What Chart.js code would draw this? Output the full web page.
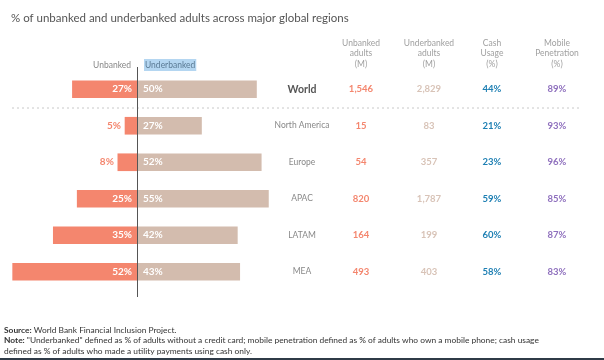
<!DOCTYPE html>
<html>
<head>
<meta charset="utf-8">
<script src="https://cdn.jsdelivr.net/npm/chart.js@4"></script>
<style>
  html, body { margin: 0; padding: 0; background: #fff; }
  #wrap { position: relative; width: 604px; height: 360px; }
</style>
</head>
<body>
<div id="wrap"><canvas id="chart" width="604" height="360"></canvas></div>
<script>
const regions = ['World', 'North America', 'Europe', 'APAC', 'LATAM', 'MEA'];
const unbankedPct = [27, 5, 8, 25, 35, 52];
const underbankedPct = [50, 27, 52, 55, 42, 43];
const unbankedAdults = [1546, 15, 54, 820, 164, 493];
const underbankedAdults = [2829, 83, 357, 1787, 199, 403];
const cashUsage = [44, 21, 23, 59, 60, 58];
const mobilePenetration = [89, 93, 96, 85, 87, 83];

const SALMON = '#f4866e';
const TAN = '#d3bcae';
const FONT = 'Lato, "Open Sans", sans-serif';

const columns = [
    { x: 361, head: ['Unbanked', 'adults', '(M)'], values: unbankedAdults.map(v => v.toLocaleString('en-US')), color: '#f4866e' },
    { x: 429, head: ['Underbanked', 'adults', '(M)'], values: underbankedAdults.map(v => v.toLocaleString('en-US')), color: '#d8c3b7' },
    { x: 492, head: ['Cash', 'Usage', '(%)'], values: cashUsage.map(v => v + '%'), color: '#1d7fb3' },
    { x: 557, head: ['Mobile', 'Penetration', '(%)'], values: mobilePenetration.map(v => v + '%'), color: '#8e6fbd' }
];

const decorPlugin = {
    id: 'decor',
    afterDatasetsDraw(chart) {
        const ctx = chart.ctx;
        const xs = chart.scales.x;
        const ys = chart.scales.y;
        const zero = xs.getPixelForValue(0);
        ctx.save();

        // title
        ctx.fillStyle = '#555';
        ctx.font = '11.5px ' + FONT;
        ctx.textAlign = 'left';
        ctx.textBaseline = 'middle';
        ctx.fillText('% of unbanked and underbanked adults across major global regions', 11, 18);

        // legend
        ctx.font = '8.5px ' + FONT;
        ctx.textAlign = 'right';
        ctx.fillStyle = '#888';
        ctx.fillText('Unbanked', 131, 65);
        ctx.textAlign = 'left';
        const w = ctx.measureText('Underbanked').width;
        ctx.fillStyle = '#b4d6f1';
        ctx.fillRect(144, 59, w + 2, 12);
        ctx.fillStyle = '#5b7b95';
        ctx.fillText('Underbanked', 145, 65);

        // column headers
        ctx.textAlign = 'center';
        ctx.fillStyle = '#a0a0a0';
        ctx.font = '8.5px ' + FONT;
        columns.forEach(col => {
            col.head.forEach((line, i) => ctx.fillText(line, col.x, 43 + i * 10.5));
        });

        // dotted separator under World
        const sepY = (ys.getPixelForValue(0) + ys.getPixelForValue(1)) / 2;
        ctx.strokeStyle = '#c8c8c8';
        ctx.lineWidth = 1;
        ctx.setLineDash([2, 3]);
        ctx.beginPath();
        ctx.moveTo(12, sepY + 0.5);
        ctx.lineTo(580, sepY + 0.5);
        ctx.stroke();
        ctx.setLineDash([]);

        // zero line
        ctx.strokeStyle = '#555';
        ctx.lineWidth = 1;
        ctx.beginPath();
        ctx.moveTo(Math.round(zero) + 0.5, chart.chartArea.top - 4);
        ctx.lineTo(Math.round(zero) + 0.5, chart.chartArea.bottom + 7);
        ctx.stroke();

        // bar labels
        ctx.font = 'bold 10px ' + FONT;
        const unb = chart.getDatasetMeta(0).data;
        const und = chart.getDatasetMeta(1).data;
        unb.forEach((bar, i) => {
            const width = Math.abs(bar.base - bar.x);
            ctx.textAlign = 'right';
            if (width > 30) {
                ctx.fillStyle = '#fff';
                ctx.fillText(unbankedPct[i] + '%', zero - 5, bar.y);
            } else {
                ctx.fillStyle = SALMON;
                ctx.fillText(unbankedPct[i] + '%', bar.x - 4, bar.y);
            }
        });
        und.forEach((bar, i) => {
            ctx.textAlign = 'left';
            ctx.fillStyle = '#fff';
            ctx.fillText(underbankedPct[i] + '%', zero + 6, bar.y);
        });

        // region names and table values
        regions.forEach((name, i) => {
            const y = ys.getPixelForValue(i);
            ctx.textAlign = 'center';
            if (i === 0) {
                ctx.font = 'bold 10.5px ' + FONT;
                ctx.fillStyle = '#555';
            } else {
                ctx.font = '8.5px ' + FONT;
                ctx.fillStyle = '#888';
            }
            ctx.fillText(name, 302, y);
            ctx.font = 'bold 9.5px ' + FONT;
            columns.forEach(col => {
                ctx.fillStyle = col.color;
                ctx.fillText(col.values[i], col.x, y);
            });
        });

        // footnotes
        ctx.textAlign = 'left';
        ctx.fillStyle = '#333';
        ctx.font = 'bold 8.4px ' + FONT;
        ctx.fillText('Source:', 4, 330);
        let sw = ctx.measureText('Source: ').width;
        ctx.font = '8.4px ' + FONT;
        ctx.fillText('World Bank Financial Inclusion Project.', 4 + sw, 330);
        ctx.font = 'bold 8.4px ' + FONT;
        ctx.fillText('Note:', 4, 340.5);
        sw = ctx.measureText('Note: ').width;
        ctx.font = '8.4px ' + FONT;
        ctx.fillText('"Underbanked" defined as % of adults without a credit card; mobile penetration defined as % of adults who own a mobile phone; cash usage', 4 + sw, 340.5);
        ctx.fillText('defined as % of adults who made a utility payments using cash only.', 4, 351);

        // bottom rule
        ctx.fillStyle = '#2f3b47';
        ctx.fillRect(0, 358, 604, 2);

        ctx.restore();
    }
};

new Chart(document.getElementById('chart'), {
    type: 'bar',
    data: {
        labels: regions,
        datasets: [
            {
                label: 'Unbanked',
                data: unbankedPct.map(v => -v),
                backgroundColor: SALMON,
                barThickness: 17
            },
            {
                label: 'Underbanked',
                data: underbankedPct,
                backgroundColor: TAN,
                barThickness: 17
            }
        ]
    },
    options: {
        indexAxis: 'y',
        responsive: false,
        animation: false,
        layout: { padding: { left: 0, right: 0, top: 71, bottom: 70 } },
        scales: {
            x: { stacked: true, min: -57.3, max: 195.4, display: false },
            y: { stacked: true, display: false }
        },
        plugins: {
            legend: { display: false },
            tooltip: { enabled: false }
        }
    },
    plugins: [decorPlugin]
});
</script>
</body>
</html>
